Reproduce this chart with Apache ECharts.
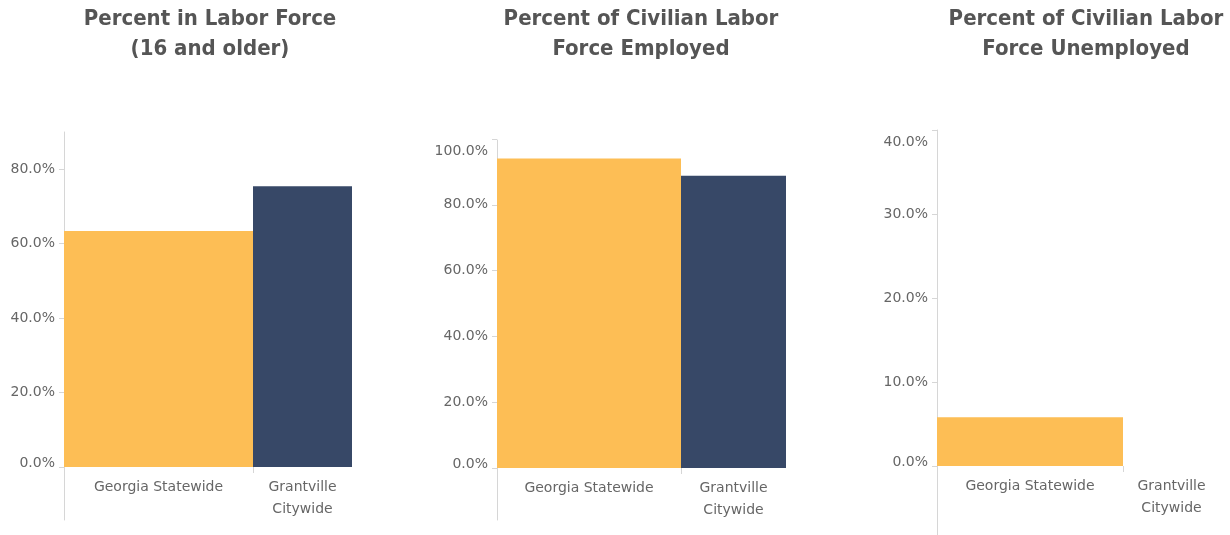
<!DOCTYPE html>
<html><head><meta charset="utf-8">
<script src="https://cdn.jsdelivr.net/npm/echarts@6/dist/echarts.min.js"></script>
<style>html,body{margin:0;padding:0;background:#fff}#c{width:1230px;height:535px}</style>
</head><body><div id="c"></div>
<script>
// ---- data ----
const categories = ['Georgia Statewide', 'Grantville Citywide'];
const titles = ['Percent in Labor Force\n(16 and older)', 'Percent of Civilian Labor\nForce Employed', 'Percent of Civilian Labor\nForce Unemployed'];
const laborForce = [63.4, 75.4];
const employed = [94.1, 88.8];
const unemployed = [5.8, null];
const ticks1 = [0, 20, 40, 60, 80];
const ticks2 = [0, 20, 40, 60, 80, 100];
const ticks3 = [0, 10, 20, 30, 40];
const axisMax = [90, 100, 40];
const colors = ['#FDBE55', '#374867'];

// ---- layout ----
const panels = [
  {vals: laborForce, ticks: ticks1, axisX: 64, mid: 253, right: 352, zero: 467, top: 132, lineTop: 132, lineBottom: 520, titleX: 205},
  {vals: employed, ticks: ticks2, axisX: 497, mid: 681, right: 786, zero: 468, top: 139, lineTop: 140, lineBottom: 520, titleX: 636},
  {vals: unemployed, ticks: ticks3, axisX: 937, mid: 1123, right: 1220, zero: 466, top: 130, lineTop: 130, lineBottom: 535, titleX: 1081}
];

const LABEL_FONT = 'DejaVu Sans';
const labelColor = '#666666';
const axisColor = '#d6d6d6';
const FS = 14;

const option = {backgroundColor: '#fff', animation: false, title: [], grid: [], xAxis: [], yAxis: [], series: []};

panels.forEach((p, i) => {
  option.title.push({
    text: titles[i], left: p.titleX, top: -1, textAlign: 'center',
    textStyle: {fontFamily: 'DejaVu Sans Condensed', fontWeight: 'bold', fontSize: 22, lineHeight: 30, color: '#555555'}
  });
  const gA = option.grid.length;
  option.grid.push({left: p.axisX, top: p.top, width: p.mid - p.axisX, height: p.zero - p.top});
  option.grid.push({left: p.mid, top: p.top, width: p.right - p.mid, height: p.zero - p.top});
  option.grid.push({left: p.axisX, top: p.lineTop, width: 1, height: p.lineBottom - p.lineTop});

  const lblStyle = {color: labelColor, fontFamily: LABEL_FONT, fontSize: FS};
  option.xAxis.push({
    gridIndex: gA, type: 'category', data: [categories[0]],
    axisLine: {show: false},
    axisTick: {show: true, length: 6, lineStyle: {color: axisColor}},
    axisLabel: Object.assign({margin: 9, lineHeight: 22}, lblStyle)
  });
  option.xAxis.push({
    gridIndex: gA + 1, type: 'category', data: [categories[1]],
    axisLine: {show: false}, axisTick: {show: false},
    axisLabel: Object.assign({margin: 9, lineHeight: 22, formatter: v => v.replace(' ', '\n')}, lblStyle)
  });
  option.xAxis.push({gridIndex: gA + 2, type: 'value', show: false});

  const top = axisMax[i];
  const maxLabelled = p.ticks.indexOf(top) >= 0;
  const yLabel = Object.assign({
    margin: 9, customValues: p.ticks,
    formatter: v => {
      const t = v.toFixed(1) + '%';
      if (v === 0) return '{lo|' + t + '}';
      if (v === top) return '{hi|' + t + '}';
      return t;
    },
    rich: {
      lo: Object.assign({padding: [0, 0, 8, 0]}, lblStyle),
      hi: Object.assign({padding: [5, 0, 0, 0]}, lblStyle)
    }
  }, lblStyle);
  if (maxLabelled) yLabel.verticalAlignMaxLabel = 'top';
  option.yAxis.push({
    gridIndex: gA, type: 'value', min: 0, max: axisMax[i],
    axisLine: {show: false}, splitLine: {show: false},
    axisTick: {show: true, length: 5, customValues: p.ticks, lineStyle: {color: axisColor}},
    axisLabel: yLabel
  });
  option.yAxis.push({gridIndex: gA + 1, type: 'value', min: 0, max: axisMax[i], show: false});
  option.yAxis.push({
    gridIndex: gA + 2, type: 'value', min: 0, max: 1,
    axisLine: {show: true, lineStyle: {color: axisColor, width: 1}},
    axisTick: {show: false}, axisLabel: {show: false}, splitLine: {show: false}
  });

  option.series.push({type: 'bar', xAxisIndex: gA, yAxisIndex: gA, barWidth: '100%', data: [p.vals[0]], itemStyle: {color: colors[0]}});
  option.series.push({type: 'bar', xAxisIndex: gA + 1, yAxisIndex: gA + 1, barWidth: '100%', data: [p.vals[1]], itemStyle: {color: colors[1]}});
});

const chart = echarts.init(document.getElementById('c'), null, {renderer: 'canvas'});
chart.setOption(option);
</script>
</body></html>
